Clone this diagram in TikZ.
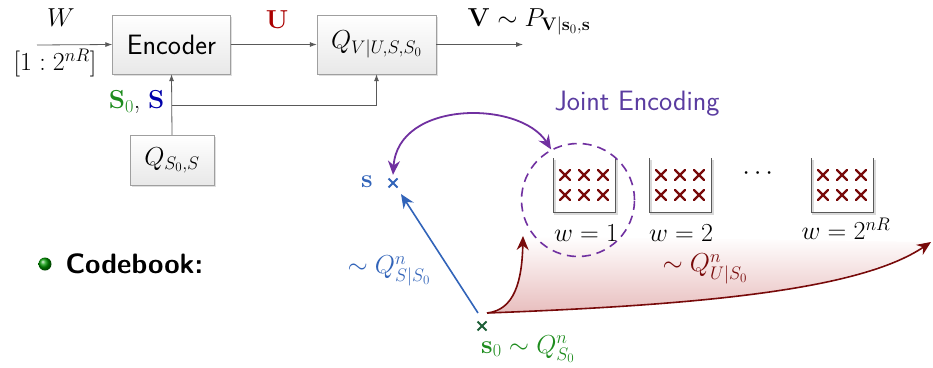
\RequirePackage{fix-cm}
\documentclass[tikz,border=0pt]{standalone}
\usepackage{amsmath}
\usetikzlibrary{arrows.meta,shadows,calc}
\definecolor{jpurple}{RGB}{112,48,160}
\definecolor{jtext}{RGB}{90,60,160}
\definecolor{sblue}{RGB}{50,100,185}
\definecolor{dblue}{RGB}{0,0,170}
\definecolor{sgreen}{RGB}{30,140,30}
\definecolor{xgreen}{RGB}{30,95,55}
\definecolor{ured}{RGB}{170,0,0}
\definecolor{dred}{RGB}{120,10,10}
\definecolor{pinkbot}{RGB}{232,190,190}
\begin{document}
\begin{tikzpicture}[x=1pt,y=-1pt,font=\fontsize{26}{31}\selectfont,
  sf/.style={font=\fontsize{28}{33}\sffamily},
  blk/.style={draw=gray!75,top color=white,bottom color=gray!18,
    drop shadow={shadow xshift=1.5pt,shadow yshift=-1.5pt,opacity=0.25},
    inner sep=0pt},
  sig/.style={draw=gray!70!black,line width=0.8pt,-{Latex[length=7pt,width=5pt]}},
  bigtip/.style={-{Stealth[length=14pt,width=12pt]}},
  xmark/.pic={\draw[line width=2.3pt,line cap=round] (-5,-5)--(5,5) (-5,5)--(5,-5);},
  smark/.pic={\draw[line width=2pt] (-4.5,-4.5)--(4.5,4.5) (-4.5,4.5)--(4.5,-4.5);},
  bucket/.pic={
    \draw[gray!30,line width=1.4pt] (-29,2)--(-29,56)--(33,56)--(33,2);
    \draw[gray!70!black,line width=1pt] (-31,0)--(-31,54)--(31,54)--(31,0);
    \foreach \xx in {-19,0,19}{\foreach \yy in {17,37}{
      \pic[dred] at (\xx,\yy) {xmark};}}
  }]
\useasboundingbox (0,0) rectangle (933,367);

% ---------- block diagram ----------
\node[blk,sf,minimum width=118pt,minimum height=59pt] (enc) at (171.5,44.5) {Encoder};
\node[blk,minimum width=119pt,minimum height=59pt] (qv) at (376.5,44.5) {$Q_{V|U,S,S_0}$};
\node[blk,minimum width=84pt,minimum height=50pt] (qs) at (172,160) {$Q_{S_0,S}$};

\coordinate (win) at (37,45);
\draw[sig] (win) -- (enc.west);
\node (wlab) at (61,18) {$W$};
\node (wrange) at (55,63) {$[1:2^{nR}]$};

\draw[sig] (enc.east) -- (qv.west);
\node[text=ured] (ulab) at (277,20) {$\mathbf{U}$};

\coordinate (vout) at (523,44.5);
\draw[sig] (qv.east) -- (vout);
\node[anchor=west] (vlab) at (464,22) {$\mathbf{V}\sim P_{\mathbf{V}|\mathbf{s}_0,\mathbf{s}}$};

\draw[sig] (qs.north) -- (enc.south);
\coordinate (br) at (172,105);
\draw[sig] (br) -| (qv.south);
\node[anchor=east] (slab) at (168,102) {$\color{sgreen}\mathbf{S}_0$, $\color{dblue}\mathbf{S}$};

% ---------- codebook bullet ----------
\shade[ball color=green!60!black] (45,264) circle (6.5pt);
\node[anchor=west,font=\fontsize{28}{33}\sffamily\bfseries] (cb) at (62,264) {Codebook:};

% ---------- codebook picture ----------
\coordinate (r0) at (487,313);
\coordinate (rshort) at (523,236);
\coordinate (rlong) at (931,242);
\shade[top color=white,bottom color=pinkbot]
  (r0) .. controls (515,310) and (522,280) .. (rshort)
  -- (rlong) .. controls (860,290) and (700,305) .. (r0);
\draw[dred,line width=1.6pt,bigtip] (r0) .. controls (515,310) and (522,280) .. (rshort);
\draw[dred,line width=1.6pt,bigtip] (r0) .. controls (700,305) and (860,290) .. (rlong);
\node[text=dred] (qu) at (705,269) {$\sim Q^n_{U|S_0}$};

\pic at (584,158) {bucket};
\pic at (680,158) {bucket};
\pic at (842,158) {bucket};
\node (w1) at (586,233) {$w=1$};
\node (w2) at (681,233) {$w=2$};
\node (w3) at (846,229) {$w=2^{nR}$};
\node (dots) at (760,174) {$\cdots$};

\node[circle,draw=jpurple,dashed,line width=1.6pt,dash pattern=on 9pt off 6pt,minimum size=113pt] (jc) at (578,200) {};
\node[text=jtext,sf] (je) at (637,104) {Joint Encoding};

% s point
\node[inner sep=5pt] (scross) at (393,183) {};
\pic[sblue] at (scross) {smark};
\node[text=sblue] (slabel) at (367,182) {$\mathbf{s}$};

% s0 point
\node[inner sep=5pt] (s0cross) at (482,326) {};
\pic[xgreen] at (s0cross) {smark};
\node[text=sgreen] (s0label) at (528,349) {$\mathbf{s}_0\sim Q^n_{S_0}$};

\coordinate (s0top) at (478,313);
\coordinate (stip) at (401,194);
\draw[sblue,line width=1.6pt,bigtip] (s0top) -- (stip);
\node[text=sblue] (qs0) at (389,271) {$\sim Q^n_{S|S_0}$};

\draw[jpurple,line width=1.8pt,{Stealth[length=14pt,width=12pt]}-{Stealth[length=14pt,width=12pt]}]
  ($(scross.north)+(0,-3)$) .. controls (398,100) and (520,100) .. (jc.118);
\end{tikzpicture}
\end{document}
